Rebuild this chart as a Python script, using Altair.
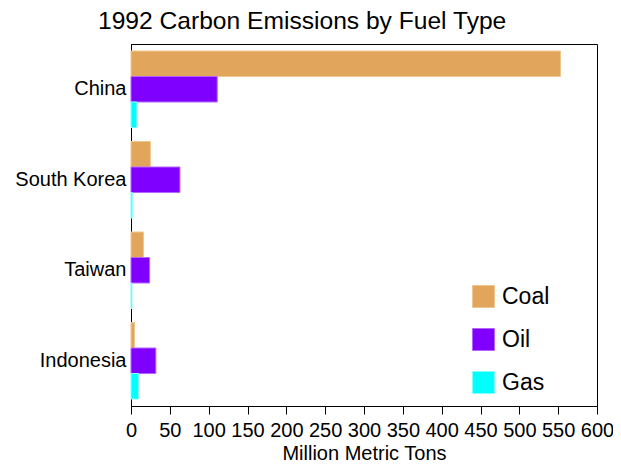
import altair as alt
import pandas as pd

countries = ["China", "South Korea", "Taiwan", "Indonesia"]
fuels = ["Coal", "Oil", "Gas"]
coal = [553, 25, 16, 4.5]
oil = [111, 63, 24, 32]
gas = [7.5, 1.5, 1.2, 9.7]
colors = ["#E1A65B", "#8000FF", "#00FFFF"]
strokes = ["#F0C690", "#B366FF", "#80FFFF"]
ticks = list(range(0, 601, 50))

rows = []
for i, c in enumerate(countries):
    for f, vals in zip(fuels, [coal, oil, gas]):
        rows.append({"country": c, "fuel": f, "value": vals[i]})
df = pd.DataFrame(rows)

FONT = "Liberation Sans"

chart = alt.Chart(df).mark_bar(strokeWidth=1).encode(
    x=alt.X("value:Q",
            scale=alt.Scale(domain=[0, 600], nice=False),
            axis=alt.Axis(values=ticks, title="Million Metric Tons", grid=False,
                          labelFontSize=20, titleFontSize=20, tickSize=8,
                          labelPadding=6, titlePadding=3, labelFlush=False,
                          labelOverlap=False)),
    y=alt.Y("country:N", sort=countries,
            scale=alt.Scale(paddingInner=0.155, paddingOuter=0.0775),
            axis=alt.Axis(title=None, ticks=False, labelFontSize=20, labelPadding=5)),
    yOffset=alt.YOffset("fuel:N", sort=fuels,
                        scale=alt.Scale(paddingInner=0, paddingOuter=0)),
    color=alt.Color("fuel:N", sort=fuels,
                    scale=alt.Scale(domain=fuels, range=colors),
                    legend=alt.Legend(title=None, orient="none", legendX=341, legendY=241,
                                      symbolType="square", symbolSize=484,
                                      symbolStrokeWidth=1, labelFontSize=23,
                                      labelOffset=7, rowPadding=16, padding=0,
                                      labelFont=FONT, labelColor="black")),
    stroke=alt.Stroke("fuel:N", sort=fuels,
                      scale=alt.Scale(domain=fuels, range=strokes), legend=None),
).properties(
    width=466, height=362,
    padding={"left": 123, "top": 36, "right": 16, "bottom": 62},
    autosize="none",
    title=alt.Title("1992 Carbon Emissions by Fuel Type", fontSize=24.6, font=FONT,
                    fontWeight="normal", anchor="start", frame="group", dx=-33,
                    dy=27, offset=17, baseline="alphabetic", color="black"),
).configure_axis(
    labelFont=FONT, titleFont=FONT, labelColor="black", titleColor="black",
    domainColor="black", tickColor="black", titleFontWeight="normal",
).configure_view(stroke="black", strokeWidth=1)

chart.save("out.html", embed_options={"renderer": "svg", "actions": False})
